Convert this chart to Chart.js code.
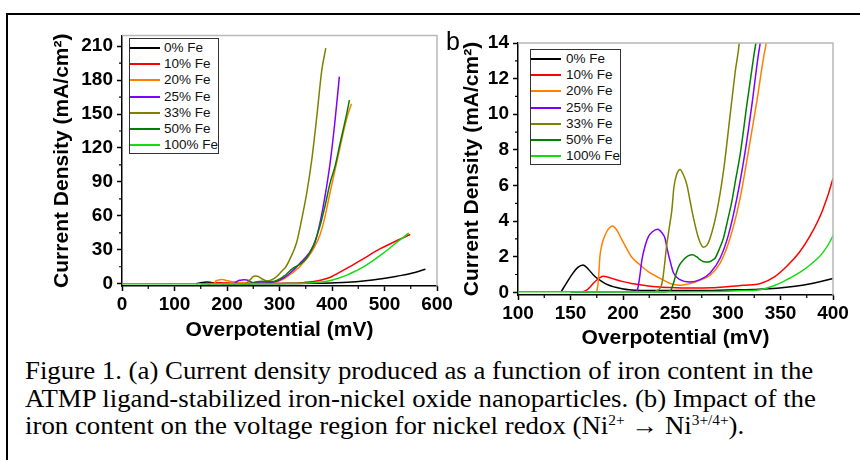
<!DOCTYPE html>
<html>
<head>
<meta charset="utf-8">
<script src="https://cdn.jsdelivr.net/npm/chart.js@4.4.0/dist/chart.umd.min.js"></script>
<style>
    body { margin: 0; background: #fff; width: 860px; height: 460px; overflow: hidden; position: relative; }
    .frame { position: absolute; left: 6px; top: 13px; right: -4px; bottom: -4px; border-left: 2px solid #000; border-top: 2px solid #000; }
    canvas { position: absolute; }
    #chartA { left: 40px; top: 20px; }
    #chartB { left: 455px; top: 25px; }
    .legend { position: absolute; border: 1px solid #333; background: #fff; box-sizing: border-box;
              font: 13.5px "Liberation Sans", Arial, sans-serif; color: #111; padding-top: 1px; }
    .legend .row { position: relative; height: 16.2px; line-height: 16.2px; white-space: nowrap; }
    .legend .swatch { position: absolute; left: 0; top: 7px; width: 30px; height: 2px; }
    #legendA { left: 129px; top: 38px; width: 90px; height: 116px; }
    #legendA .label { position: absolute; left: 34px; }
    #legendB { left: 530px; top: 49px; width: 91px; height: 116px; }
    #legendB .label { position: absolute; left: 35px; }
    .panel-label { position: absolute; left: 446px; top: 27px; font: 25px "Liberation Sans", Arial, sans-serif; }
    .caption { position: absolute; left: 25px; top: 357px; font: 24.5px "Liberation Serif", "Times New Roman", serif;
               line-height: 27.5px; color: #000; white-space: nowrap;
               transform: scaleX(1.095); transform-origin: 0 0; }
    .caption sup { font-size: 14px; vertical-align: 9px; line-height: 0; }
</style>
</head>
<body>
<div class="frame"></div>
<canvas id="chartA" width="420" height="330"></canvas>
<canvas id="chartB" width="400" height="330"></canvas>
<div class="panel-label">b</div>
<div class="legend" id="legendA"></div>
<div class="legend" id="legendB"></div>
<div class="caption">
    Figure 1. (a) Current density produced as a function of iron content in the<br>
    ATMP ligand-stabilized iron-nickel oxide nanoparticles. (b) Impact of the<br>
    iron content on the voltage region for nickel redox (Ni<sup>2+</sup> &rarr; Ni<sup>3+/4+</sup>).
</div>

<script>
// Series names
const seriesNames = ['0% Fe', '10% Fe', '20% Fe', '25% Fe', '33% Fe', '50% Fe', '100% Fe'];

// Curves: [overpotential mV, current density mA/cm2]
const fe0 = [[141, 0.03], [146, 0.5], [152, 1.05], [157, 1.4], [162, 1.54], [167, 1.3], [173, 0.9],
    [180, 0.6], [186, 0.41], [193, 0.28], [199, 0.2], [206, 0.14], [212, 0.12], [240, 0.1], [270, 0.1],
    [300, 0.13], [330, 0.17], [362, 0.33], [380, 0.5], [399, 0.76], [430, 1.3], [460, 2.4], [498, 4.7],
    [524, 6.7], [550, 9.0], [578, 12.8]];
const fe10 = [[162, 0.03], [166, 0.15], [171, 0.45], [175, 0.69], [178, 0.82], [181, 0.9], [186, 0.85],
    [192, 0.73], [200, 0.6], [208, 0.5], [216, 0.42], [224, 0.35], [235, 0.3], [247, 0.27], [267, 0.24],
    [285, 0.26], [299, 0.32], [315, 0.4], [331, 0.5], [345, 0.9], [356, 1.46], [368, 2.25], [378, 3.15],
    [390, 4.6], [400, 6.4], [410, 9.0], [428, 13.5], [460, 22.2], [492, 31], [524, 38.2], [549, 43.5]];
const fe20 = [[175, 0.03], [176.5, 0.6], [178, 2.0], [180, 2.7], [183, 3.22], [186, 3.55], [190, 3.73],
    [194, 3.5], [199, 2.94], [204, 2.4], [208, 2.0], [216, 1.55], [224, 1.16], [235, 0.8], [245, 0.5],
    [254, 0.4], [264, 0.5], [273, 0.68], [283, 0.96], [292.6, 1.65], [302, 3.05], [311.6, 5.3],
    [319.5, 7.93], [327.5, 10.74], [333.8, 13.17], [336.4, 14], [345, 18.5], [355, 24], [365, 31],
    [377, 43], [387, 60], [396, 80], [406, 101], [415, 120], [428, 146], [437, 159]];
const fe25 = [[212, 0.03], [214, 0.2], [216, 0.9], [218, 1.82], [221, 2.6], [224.2, 3.13], [228, 3.4],
    [233, 3.54], [237, 3.35], [240, 3.04], [242, 2.45], [246, 1.5], [248, 1.1], [254.4, 0.71], [264, 0.58],
    [273.5, 0.71], [283, 1.09], [292.6, 1.93], [300.5, 3.24], [308.5, 5.3], [316.4, 7.93], [322.8, 10.55],
    [328.5, 13.17], [330.7, 14], [340, 18.5], [350, 23.5], [360, 29.5], [367.7, 36.7], [377.3, 54.2],
    [386.8, 77.6], [396.4, 106.7], [405.9, 144.7], [414, 183]];
const fe33 = [[230, 0.03], [236, 0.3], [238, 0.8], [241.7, 2.68], [244, 3.6], [246.5, 4.6], [248.5, 5.9],
    [251, 6.6], [254.4, 6.9], [257.5, 6.6], [260.8, 6.05], [264, 5.1], [267.1, 4.18], [271.9, 3.05],
    [276.6, 2.53], [280, 2.65], [283, 3.05], [289.4, 4.55], [295.7, 6.8], [302.1, 9.99], [306.9, 12.4],
    [310.7, 14.0], [320, 22], [332.8, 36.7], [342.4, 57.2], [352, 80.5], [361.5, 109.7], [371, 147.6],
    [380.5, 188.5], [388.2, 208.3]];
const fe50 = [[150, 0.02], [240, 0.03], [245, 0.08], [248, 0.5], [251.3, 1.18], [254, 1.55], [257.6, 1.83],
    [262, 2.05], [266.2, 2.11], [270, 2.0], [273.5, 1.83], [277, 1.72], [281.4, 1.7], [284.5, 1.78],
    [287.8, 1.93], [291.5, 2.4], [295.7, 3.05], [299.5, 4.0], [303.7, 5.12], [307.5, 6.4], [311.6, 7.74],
    [318, 10.55], [324.3, 13.17], [326.6, 14], [340, 17.5], [352, 23], [364.6, 33.9], [377.3, 51.4],
    [386.8, 68.9], [396.4, 89.2], [405.9, 103.9], [415.5, 124.2], [428.2, 150.5], [433.2, 162.2]];
const fe100 = [[0, 0.03], [100, 0.03], [200, 0.03], [300, 0.06], [315, 0.1], [330.7, 0.15], [345, 0.4],
    [356, 0.71], [368, 1.1], [378.4, 1.55], [390, 2.2], [399, 3.05], [410, 4.6], [428.2, 7.6], [444, 11],
    [460, 14.9], [476, 19.8], [491.8, 25.1], [508, 30.7], [523.7, 36.7], [536, 41], [546, 45]];
const seriesData = [fe0, fe10, fe20, fe25, fe33, fe50, fe100];

// Axis ticks
const aXTicks = [0, 100, 200, 300, 400, 500, 600];
const aXMinor = [50, 150, 250, 350, 450, 550];
const aYTicks = [0, 30, 60, 90, 120, 150, 180, 210];
const aYMinor = [15, 45, 75, 105, 135, 165, 195];
const bXTicks = [100, 150, 200, 250, 300, 350, 400];
const bXMinor = [125, 175, 225, 275, 325, 375];
const bYTicks = [0, 2, 4, 6, 8, 10, 12, 14];
const bYMinor = [1, 3, 5, 7, 9, 11, 13];

const seriesColors = ['#000000', '#ff0000', '#ff8000', '#8000ff', '#808000', '#008000', '#11dd11'];

Chart.defaults.font.family = '"Liberation Sans", Arial, sans-serif';
Chart.defaults.color = '#000';

// Gray top/right frame and short minor ticks
const axisDecor = {
    id: 'axisDecor',
    afterDraw(chart, args, opts) {
        const { ctx, chartArea: a, scales: { x, y } } = chart;
        ctx.save();
        ctx.strokeStyle = '#b8b8b8';
        ctx.lineWidth = 1.5;
        ctx.beginPath();
        ctx.moveTo(a.left, a.top);
        ctx.lineTo(a.right, a.top);
        ctx.lineTo(a.right, a.bottom);
        ctx.stroke();
        ctx.strokeStyle = '#000';
        ctx.lineWidth = 1.2;
        ctx.beginPath();
        opts.xMinor.forEach(v => {
            const px = x.getPixelForValue(v);
            ctx.moveTo(px, a.bottom);
            ctx.lineTo(px, a.bottom + 3);
        });
        opts.yMinor.forEach(v => {
            const py = y.getPixelForValue(v);
            ctx.moveTo(a.left, py);
            ctx.lineTo(a.left - 3, py);
        });
        ctx.stroke();
        ctx.restore();
    }
};

function buildDatasets() {
    return seriesData.map((pts, i) => ({
        label: seriesNames[i],
        data: pts.map(p => ({ x: p[0], y: p[1] })),
        borderColor: seriesColors[i],
        borderWidth: 1.5,
        pointRadius: 0,
        fill: false,
        cubicInterpolationMode: 'monotone',
        order: seriesData.length - i
    }));
}

function makeChart(id, cfg) {
    const axisTitleFont = { size: 21, weight: 'bold' };
    const tickFont = { size: 19, weight: 'bold' };
    return new Chart(document.getElementById(id), {
        type: 'line',
        data: { datasets: buildDatasets() },
        plugins: [axisDecor],
        options: {
            responsive: false,
            animation: false,
            layout: { padding: cfg.padding },
            plugins: {
                legend: { display: false },
                tooltip: { enabled: false },
                axisDecor: { xMinor: cfg.xMinor, yMinor: cfg.yMinor }
            },
            scales: {
                x: {
                    type: 'linear',
                    min: cfg.xMin,
                    max: cfg.xMax,
                    afterBuildTicks: s => { s.ticks = cfg.xTicks.map(v => ({ value: v })); },
                    afterFit: s => { s.height = cfg.xHeight; },
                    ticks: { font: tickFont, color: '#000', padding: 2, maxRotation: 0, autoSkip: false },
                    grid: { drawOnChartArea: false, tickLength: 5, tickColor: '#000', tickWidth: 1.5 },
                    border: { color: '#000', width: 1.5 },
                    title: { display: true, text: 'Overpotential (mV)', font: axisTitleFont, color: '#000',
                             padding: { top: 0, bottom: cfg.xTitlePad } }
                },
                y: {
                    type: 'linear',
                    min: cfg.yMin,
                    max: cfg.yMax,
                    afterBuildTicks: s => { s.ticks = cfg.yTicks.map(v => ({ value: v })); },
                    afterFit: s => { s.width = cfg.yWidth; },
                    ticks: { font: tickFont, color: '#000', padding: 4, autoSkip: false },
                    grid: { drawOnChartArea: false, tickLength: 5, tickColor: '#000', tickWidth: 1.5 },
                    border: { color: '#000', width: 1.5 },
                    title: { display: true, text: 'Current Density (mA/cm²)', font: axisTitleFont, color: '#000',
                             padding: { top: cfg.yTitlePad, bottom: 0 } }
                }
            }
        }
    });
}

// HTML legends built from the series names and colours
function buildLegend(id) {
    const box = document.getElementById(id);
    seriesNames.forEach((name, i) => {
        const row = document.createElement('div');
        row.className = 'row';
        row.innerHTML = `<span class="swatch" style="background:${seriesColors[i]}"></span><span class="label">${name}</span>`;
        box.appendChild(row);
    });
}

makeChart('chartA', {
    padding: { left: 0, top: 13, right: 23, bottom: 0 },
    xMin: 0, xMax: 600, yMin: -2, yMax: 219.5,
    xTicks: aXTicks, yTicks: aYTicks, xMinor: aXMinor, yMinor: aYMinor,
    xHeight: 64, yWidth: 82, xTitlePad: 7, yTitlePad: 10
});

makeChart('chartB', {
    padding: { left: 0, top: 18, right: 22, bottom: 0 },
    xMin: 100, xMax: 400, yMin: -0.15, yMax: 14,
    xTicks: bXTicks, yTicks: bYTicks, xMinor: bXMinor, yMinor: bYMinor,
    xHeight: 60, yWidth: 63, xTitlePad: 4, yTitlePad: 5
});

buildLegend('legendA');
buildLegend('legendB');
</script>
</body>
</html>
